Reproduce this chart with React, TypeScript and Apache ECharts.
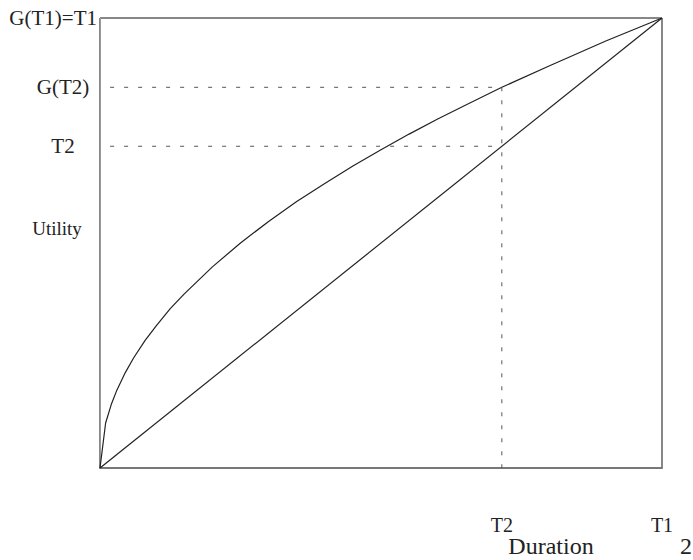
import React, { useEffect, useRef } from "react";
import * as echarts from "echarts";

// Duration (fraction of T1) and concave utility G(duration)
const durationX = [0, 0.01, 0.02, 0.03, 0.045, 0.06, 0.08, 0.1, 0.125, 0.15, 0.2, 0.25, 0.3, 0.35, 0.4, 0.45, 0.5, 0.55, 0.6, 0.65, 0.715, 0.8, 0.9, 1.0];
const utilityG = [0, 0.1, 0.141, 0.173, 0.212, 0.245, 0.283, 0.316, 0.354, 0.387, 0.447, 0.5, 0.548, 0.592, 0.632, 0.671, 0.707, 0.742, 0.775, 0.806, 0.846, 0.894, 0.949, 1.0];
const diagonalX = [0, 1];
const diagonalY = [0, 1];
const T1 = 1;
const T2 = 0.715;
const GT2 = 0.846;
const dashStartX = 0.018;

const yLabels = [
  { text: "G(T1)=T1", value: T1 },
  { text: "G(T2)", value: GT2 },
  { text: "T2", value: T2 },
  { text: "Utility", value: 0.533 },
];
const xLabels = [
  { text: "T2", value: T2 },
  { text: "T1", value: T1 },
];
const xTitle = "Duration";
const pageNumber = "2";

const FONT = "'Liberation Serif', 'DejaVu Serif', serif";

export default function App() {
  const ref = useRef<HTMLDivElement>(null);
  useEffect(() => {
    document.body.style.margin = "0";
    const chart = echarts.init(ref.current!, null, { renderer: "svg" });
    const lineColor = "#222";
    chart.setOption({
      animation: false,
      backgroundColor: "#fff",
      grid: {
        left: 100,
        top: 18,
        width: 562,
        height: 450,
        show: true,
        borderColor: "#111",
        borderWidth: 1,
      },
      xAxis: {
        type: "value",
        min: 0,
        max: 1,
        axisLine: { show: true, lineStyle: { color: "#777", width: 2 } },
        axisTick: { show: false },
        axisLabel: { show: false },
        splitLine: { show: false },
      },
      yAxis: {
        type: "value",
        min: 0,
        max: 1,
        axisLine: { show: true, lineStyle: { color: "#999", width: 1 } },
        axisTick: { show: false },
        axisLabel: { show: false },
        splitLine: { show: false },
      },
      series: [
        {
          type: "line",
          data: durationX.map((x, i) => [x, utilityG[i]]),
          showSymbol: false,
          lineStyle: { color: lineColor, width: 1.2 },
          silent: true,
        },
        {
          type: "line",
          data: diagonalX.map((x, i) => [x, diagonalY[i]]),
          showSymbol: false,
          lineStyle: { color: lineColor, width: 1.2 },
          silent: true,
        },
        {
          type: "line",
          data: [[dashStartX, GT2], [T2, GT2]],
          showSymbol: false,
          lineStyle: { color: "#555", width: 1, type: [4, 10] },
          silent: true,
        },
        {
          type: "line",
          data: [[dashStartX, T2], [T2, T2]],
          showSymbol: false,
          lineStyle: { color: "#555", width: 1, type: [4, 10] },
          silent: true,
        },
        {
          type: "line",
          data: [[T2, GT2], [T2, 0]],
          showSymbol: false,
          lineStyle: { color: "#555", width: 1, type: [4, 9] },
          silent: true,
        },
      ],
    });

    const yLabelX: Record<string, { x: number; align: string; size: number }> = {
      "G(T1)=T1": { x: 97, align: "right", size: 21 },
      "G(T2)": { x: 63, align: "center", size: 21 },
      T2: { x: 63, align: "center", size: 21 },
      Utility: { x: 57, align: "center", size: 19 },
    };
    const graphics: any[] = [];
    yLabels.forEach((l) => {
      const py = chart.convertToPixel({ gridIndex: 0 }, [0, l.value])[1];
      const cfg = yLabelX[l.text];
      graphics.push({
        type: "text",
        x: cfg.x,
        y: py,
        style: {
          text: l.text,
          font: `${cfg.size}px ${FONT}`,
          fill: "#222",
          align: cfg.align,
          verticalAlign: "middle",
        },
      });
    });
    xLabels.forEach((l) => {
      const px = chart.convertToPixel({ gridIndex: 0 }, [l.value, 0])[0];
      graphics.push({
        type: "text",
        x: px,
        y: 525,
        style: {
          text: l.text,
          font: `20px ${FONT}`,
          fill: "#222",
          align: "center",
          verticalAlign: "middle",
        },
      });
    });
    graphics.push({
      type: "text",
      x: 551,
      y: 546,
      style: { text: xTitle, font: `24px ${FONT}`, fill: "#222", align: "center", verticalAlign: "middle" },
    });
    graphics.push({
      type: "text",
      x: 680,
      y: 546,
      style: { text: pageNumber, font: `24px ${FONT}`, fill: "#222", align: "left", verticalAlign: "middle" },
    });
    chart.setOption({ graphic: graphics });

    return () => chart.dispose();
  }, []);
  return (
    <div
      ref={ref}
      style={{ position: "fixed", left: 0, top: 0, width: 693, height: 560 }}
    />
  );
}
